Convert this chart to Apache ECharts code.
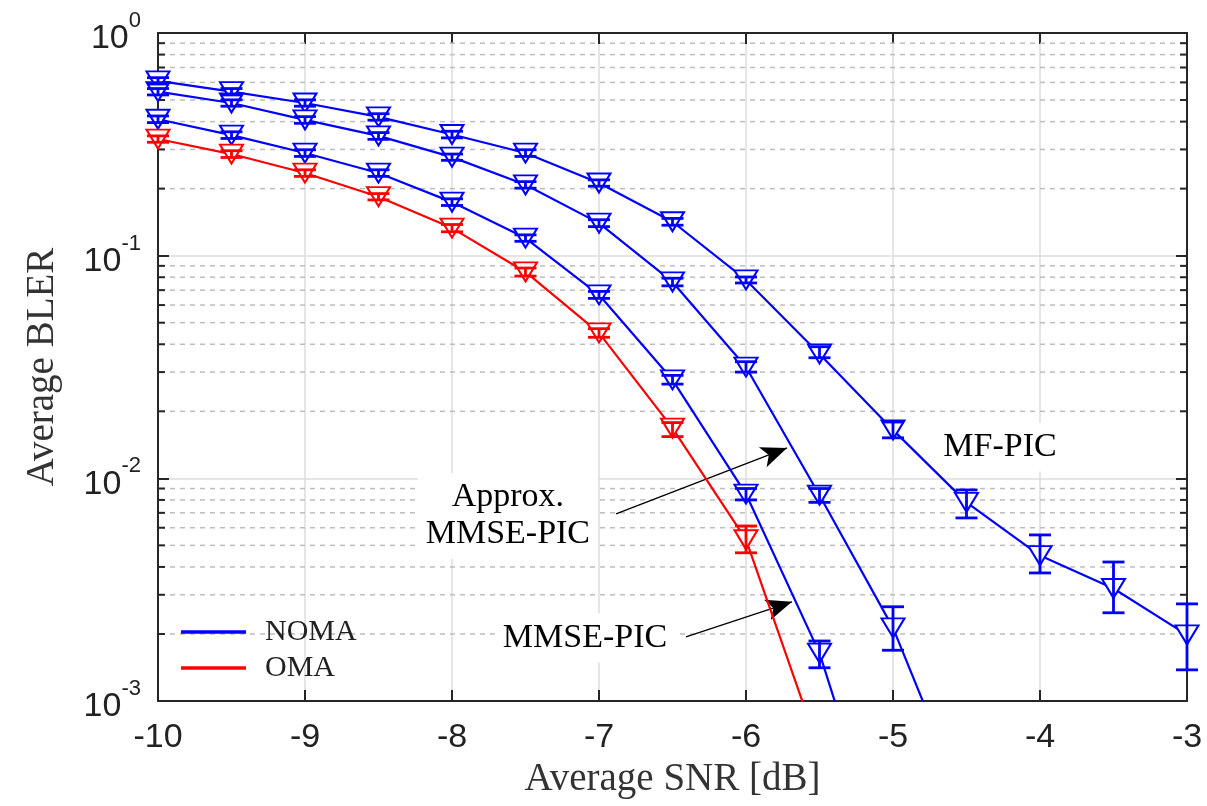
<!DOCTYPE html>
<html><head><meta charset="utf-8">
<script src="https://cdn.jsdelivr.net/npm/echarts@6/dist/echarts.min.js"></script>
<style>html,body{margin:0;padding:0;background:#fff}#c{width:1207px;height:806px}</style>
</head><body><div id="c"></div>
<script>
// ---------- data ----------
const snrMF     = [-10,-9.5,-9,-8.5,-8,-7.5,-7,-6.5,-6,-5.5,-5,-4.5,-4,-3.5,-3];
const blerMF    = [0.61,0.545,0.485,0.42,0.35,0.289,0.212,0.142,0.0778,0.0362,0.0165,0.0078,0.0045,0.0032,0.00198];
const loMF      = [0.59,0.527,0.469,0.406,0.338,0.279,0.205,0.137,0.0754,0.0348,0.0152,0.00664,0.00376,0.00249,0.00138];
const hiMF      = [0.63,0.563,0.501,0.434,0.362,0.299,0.219,0.147,0.0802,0.039,0.0179,0.00887,0.00557,0.00421,0.00273];

const snrApx    = [-10,-9.5,-9,-8.5,-8,-7.5,-7,-6.5,-6,-5.5,-5,-4.5];
const blerApx   = [0.545,0.485,0.407,0.345,0.277,0.208,0.14,0.0762,0.0316,0.0084,0.00213,0.00033];
const loApx     = [0.527,0.469,0.393,0.333,0.268,0.201,0.135,0.0732,0.030,0.0078,0.00169,null];
const hiApx     = [0.563,0.501,0.421,0.357,0.286,0.215,0.145,0.0792,0.0334,0.0090,0.00265,null];

const snrMmse   = [-10,-9.5,-9,-8.5,-8,-7.5,-7,-6.5,-6,-5.5,-5];
const blerMmse  = [0.41,0.348,0.289,0.235,0.174,0.12,0.0667,0.0277,0.0085,0.00164,0.00015];
const loMmse    = [0.396,0.336,0.279,0.227,0.168,0.116,0.0643,0.0265,0.0080,0.00141,null];
const hiMmse    = [0.424,0.36,0.299,0.243,0.18,0.124,0.0691,0.029,0.0090,0.00186,null];

const snrOma    = [-10,-9.5,-9,-8.5,-8,-7.5,-7,-6.5,-6,-5.5];
const blerOma   = [0.334,0.286,0.235,0.184,0.133,0.0845,0.045,0.0168,0.0053,0.0006];
const loOma     = [0.323,0.276,0.227,0.178,0.128,0.081,0.043,0.0154,0.00463,null];
const hiOma     = [0.345,0.296,0.243,0.19,0.138,0.088,0.047,0.0178,0.00611,null];

const xTicks = [-10,-9,-8,-7,-6,-5,-4,-3];
const yDecades = [0.001,0.01,0.1];
const minorMult = [2,3,4,5,6,7,8,9];

const noteText = ['Approx.\nMMSE-PIC','MMSE-PIC','MF-PIC'];
const noteX = [-7.62,-7.095,-4.272];
const noteY = [0.00678,0.00192,0.01383];
const arrowFrom = [[-6.884,0.00692],[-6.408,0.00194]];
const arrowTo   = [[-5.721,0.0137],[-5.687,0.00279]];

const legendNames = ['NOMA','OMA'];

// ---------- build ----------
const BLUE = '#0000ff', RED = '#ff0000';
const XMIN = xTicks[0], XMAX = xTicks[xTicks.length-1];
const minorVals = [];
yDecades.forEach(d => minorMult.forEach(m => minorVals.push([XMIN, +(d*m).toPrecision(3)])));

function lineSeries(name, xs, ys, color){
  return {
    type:'line', name:name, data: xs.map((x,i)=>[x, ys[i]]),
    symbol:'emptyTriangle', symbolRotate:180, symbolSize:[23,19],
    lineStyle:{color:color, width:2.2}, itemStyle:{color:color, borderWidth:2.2},
    z:5, clip:true, silent:true, emphasis:{disabled:true}
  };
}
function errSeries(name, xs, lo, hi, color){
  const d = [];
  xs.forEach((x,i)=>{ if(lo[i]!=null) d.push([x, lo[i], hi[i]]); });
  return {
    type:'custom', name:name+'_err', data:d, z:6, silent:true,
    encode:{x:0, y:[1,2]},
    renderItem:function(params, api){
      const x = api.value(0);
      const a = api.coord([x, api.value(1)]);
      const b = api.coord([x, api.value(2)]);
      const w = 11;
      const st = {stroke:color, lineWidth:2.8};
      return {type:'group', children:[
        {type:'line', shape:{x1:a[0],y1:a[1],x2:b[0],y2:b[1]}, style:st},
        {type:'line', shape:{x1:a[0]-w,y1:a[1],x2:a[0]+w,y2:a[1]}, style:st},
        {type:'line', shape:{x1:b[0]-w,y1:b[1],x2:b[0]+w,y2:b[1]}, style:st}
      ]};
    }
  };
}

const chart = echarts.init(document.getElementById('c'), null, {renderer:'canvas'});
const serifFont = '"Liberation Serif","DejaVu Serif",serif';
const sansFont = '"Liberation Sans",Arial,sans-serif';
const frame = '#262626';

const option = {
  animation:false,
  backgroundColor:'#fff',
  grid:{left:158, right:20, top:33, bottom:105, containLabel:false},
  legend:{
    data:legendNames, orient:'vertical', left:176, top:612,
    icon:'rect', itemWidth:65, itemHeight:3.5, itemGap:6,
    textStyle:{fontFamily:serifFont, fontSize:30, color:'#222', padding:[0,0,0,14]},
    selectedMode:false
  },
  xAxis:[
    {type:'value', min:XMIN, max:XMAX, interval:1, position:'bottom',
     name:'Average SNR [dB]', nameLocation:'middle', nameGap:56,
     nameTextStyle:{fontFamily:serifFont, fontSize:39, color:'#333'},
     axisLine:{show:true, onZero:false, lineStyle:{color:frame, width:2}},
     axisTick:{inside:true, length:11, lineStyle:{color:frame, width:2}},
     axisLabel:{margin:20, fontFamily:sansFont, fontSize:34, color:'#222'},
     splitLine:{show:true, lineStyle:{color:'#dcdcdc', width:1.5}}},
    {type:'value', min:XMIN, max:XMAX, interval:1, position:'top',
     axisLine:{show:true, onZero:false, lineStyle:{color:frame, width:2}},
     axisTick:{inside:true, length:11, lineStyle:{color:frame, width:2}},
     axisLabel:{show:false}, splitLine:{show:false}}
  ],
  yAxis:[
    {type:'log', logBase:10, min:0.001, max:1, position:'left',
     name:'Average BLER', nameLocation:'middle', nameGap:96, nameRotate:90,
     nameTextStyle:{fontFamily:serifFont, fontSize:39, color:'#333'},
     axisLine:{show:true, onZero:false, lineStyle:{color:frame, width:2}},
     axisTick:{inside:true, length:11, lineStyle:{color:frame, width:2}},
     axisLabel:{margin:17, formatter:function(v){ return '{b|10}{s|' + Math.round(Math.log10(v)) + '}'; },
       rich:{b:{fontFamily:sansFont, fontSize:34, lineHeight:46, verticalAlign:'bottom', color:'#222'},
             s:{fontFamily:sansFont, fontSize:22, lineHeight:22, verticalAlign:'top', color:'#222'}}},
     splitLine:{show:true, lineStyle:{color:'#dcdcdc', width:1.5}}},
    {type:'log', logBase:10, min:0.001, max:1, position:'right',
     axisLine:{show:true, onZero:false, lineStyle:{color:frame, width:2}},
     axisTick:{inside:true, length:11, lineStyle:{color:frame, width:2}},
     axisLabel:{show:false}, splitLine:{show:false}}
  ],
  series:[
    {type:'custom', name:'minorGrid', data:minorVals, z:1, silent:true,
     encode:{x:0, y:1},
     renderItem:function(params, api){
       const v = api.value(1);
       const p1 = api.coord([XMIN, v]), p2 = api.coord([XMAX, v]);
       return {type:'group', children:[
         {type:'line', shape:{x1:p1[0]+2,y1:p1[1],x2:p2[0]-2,y2:p2[1]}, style:{stroke:'#bdbdbd', lineWidth:1.5, lineDash:[5,5]}},
         {type:'line', shape:{x1:p1[0],y1:p1[1],x2:p1[0]+7,y2:p1[1]}, style:{stroke:frame, lineWidth:2}},
         {type:'line', shape:{x1:p2[0]-7,y1:p2[1],x2:p2[0],y2:p2[1]}, style:{stroke:frame, lineWidth:2}}
       ]};
     }},
    {type:'scatter', name:'notes', z:3, silent:true, symbolSize:1,
     itemStyle:{color:'rgba(255,255,255,0)'},
     data: noteText.map((t,i)=>[noteX[i], noteY[i], t]),
     label:{show:true, position:'inside', formatter:function(p){return p.data[2];},
       fontFamily:serifFont, fontSize:34, lineHeight:37, color:'#000', opacity:1,
       textBorderWidth:0, align:'center',
       verticalAlign:'middle', backgroundColor:'#fff', padding:[6,8]},
     labelLayout:{hideOverlap:false},
     emphasis:{disabled:true}
    },
    lineSeries('NOMA', snrMF, blerMF, BLUE),
    lineSeries('NOMA', snrApx, blerApx, BLUE),
    lineSeries('NOMA', snrMmse, blerMmse, BLUE),
    lineSeries('OMA', snrOma, blerOma, RED),
    errSeries('mf', snrMF, loMF, hiMF, BLUE),
    errSeries('apx', snrApx, loApx, hiApx, BLUE),
    errSeries('mmse', snrMmse, loMmse, hiMmse, BLUE),
    errSeries('oma', snrOma, loOma, hiOma, RED),
    {type:'line', name:'arrows', data:[], z:7, silent:true,
     markLine:{silent:true, symbol:['none','arrow'], symbolSize:[16,26],
       lineStyle:{color:'#000', width:1.3, type:'solid'}, label:{show:false},
       emphasis:{disabled:true},
       data: arrowFrom.map((f,i)=>[{coord:f},{coord:arrowTo[i]}])}}
  ]
};
chart.setOption(option);
</script></body></html>
